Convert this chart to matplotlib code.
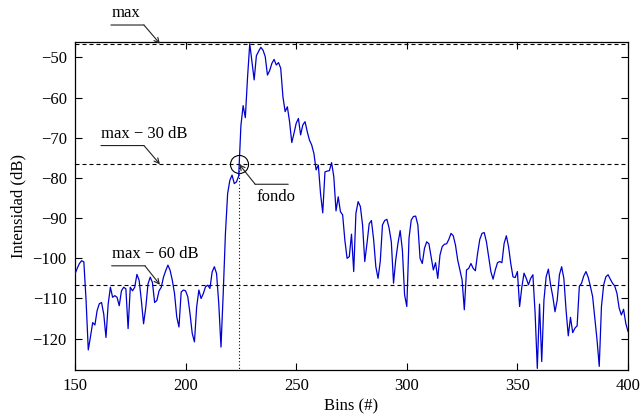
import numpy as np
import matplotlib
matplotlib.use("Agg")
import matplotlib.pyplot as plt

plt.rcParams['font.family'] = ['Liberation Serif', 'DejaVu Serif']
plt.rcParams['font.size'] = 12
plt.rcParams['axes.unicode_minus'] = True

# Spectrum intensity per bin
bins = np.arange(150, 401)
intensity = [
    -103.9, -102.5, -101.3, -100.6, -100.9, -110.4, -122.8, -119.5, -116.0, -116.6,
    -113.0, -111.3, -111.0, -113.9, -119.7, -111.4, -107.2, -109.7, -109.3, -109.7,
    -111.8, -108.1, -107.2, -107.6, -117.5, -107.2, -108.1, -107.2, -104.0, -105.5,
    -110.5, -116.3, -112.2, -106.4, -104.7, -106.0, -111.0, -110.5, -108.1, -107.2,
    -104.7, -103.1, -101.7, -103.0, -105.5, -108.8, -114.6, -117.1, -108.4, -107.9,
    -108.1, -109.6, -113.8, -118.7, -120.8, -112.1, -107.9, -110.0, -108.8, -107.1,
    -106.7, -107.5, -103.4, -102.1, -103.8, -111.3, -122.1, -108.8, -93.9, -83.9,
    -80.6, -79.3, -81.4, -81.0, -79.5, -67.0, -62.0, -65.0, -55.0, -46.6,
    -51.0, -55.6, -49.6, -48.5, -47.5, -48.2, -49.8, -54.4, -53.3, -51.5,
    -50.5, -51.9, -51.3, -52.7, -59.8, -63.5, -62.3, -66.0, -71.2, -68.9,
    -66.4, -65.2, -69.3, -66.8, -66.0, -68.5, -70.6, -71.8, -73.9, -78.0,
    -76.8, -83.9, -88.7, -78.5, -78.3, -78.2, -76.2, -79.7, -88.2, -84.7,
    -88.4, -89.2, -95.5, -100.0, -99.6, -94.0, -103.3, -88.8, -85.9, -87.1,
    -91.7, -100.8, -96.3, -91.4, -90.6, -95.3, -102.1, -105.0, -100.8, -91.7,
    -90.6, -90.3, -92.5, -95.9, -106.2, -100.4, -96.3, -93.1, -97.9, -109.1,
    -112.0, -95.0, -90.5, -89.6, -89.5, -91.7, -100.0, -101.3, -97.5, -95.9,
    -96.4, -99.6, -102.9, -101.1, -105.0, -99.2, -97.1, -96.5, -96.4, -95.3,
    -93.8, -94.4, -96.7, -100.4, -102.9, -105.4, -112.8, -102.9, -102.5, -101.3,
    -102.5, -103.1, -98.8, -95.3, -93.8, -93.6, -95.9, -99.6, -103.3, -105.2,
    -102.9, -101.1, -100.8, -101.1, -96.3, -94.4, -97.1, -101.3, -104.6, -104.8,
    -103.3, -112.0, -107.2, -103.7, -105.0, -106.6, -105.0, -104.1, -113.6, -127.4,
    -111.4, -125.7, -110.4, -104.6, -102.7, -106.6, -109.5, -113.3, -110.4, -104.1,
    -102.1, -105.0, -112.9, -119.3, -114.7, -118.5, -117.4, -116.8, -107.0, -106.2,
    -104.4, -103.3, -104.7, -107.0, -109.5, -114.9, -120.3, -126.9, -112.0, -106.6,
    -104.6, -104.1, -105.2, -106.2, -106.9, -108.7, -112.4, -114.1, -112.7, -116.2,
    -118.2,
]
x_ticks = [150, 200, 250, 300, 350, 400]
y_ticks = [-120, -110, -100, -90, -80, -70, -60, -50]
level_drops = [0, 30, 60]
level_labels = ["max", "max \u2212 30 dB", "max \u2212 60 dB"]
marker_bin = 188.4

W, H = 641, 417
fig = plt.figure(figsize=(W / 100, H / 100), dpi=100)
ax = fig.add_axes([75 / W, 1 - 370 / H, 553 / W, (370 - 41.7) / H])

y = np.asarray(intensity)
ax.plot(bins, y, color='#0000d0', lw=0.9, zorder=3)

peak = y.max()
levels = [peak - d for d in level_drops]
dash = (0, (3.6, 2.7))
for lv in levels:
    ax.axhline(lv, color='k', lw=0.8, ls=dash, zorder=2)

ax.set_xlim(150, 400)
ax.set_ylim(-127.8, -46.1)
ax.set_xticks(x_ticks)
ax.set_yticks(y_ticks)
ax.tick_params(direction='in', top=True, right=True, length=4.7, width=0.8,
               labelsize=12, pad=6)
for s in ax.spines.values():
    s.set_linewidth(0.9)
ax.set_xlabel("Bins (#)", labelpad=3)
ax.set_ylabel("Intensidad (dB)", labelpad=4)

# noise floor: where the rising edge crosses max - 30 dB
thr = levels[1]
ip = int(np.argmax(y))
i = ip
while y[i - 1] >= thr:
    i -= 1
x0, x1 = bins[i - 1], bins[i]
fondo_x = x0 + (thr - y[i - 1]) / (y[i] - y[i - 1]) * (x1 - x0)
ax.plot([fondo_x, fondo_x], [thr, ax.get_ylim()[0]], color='k', lw=0.8,
        ls=(0, (1, 2)), zorder=2)
ax.plot([fondo_x], [thr], marker='o', ms=13, mfc='none', mec='k', mew=0.8,
        zorder=4)


def px(xd, yd):
    return ax.transData.transform((xd, yd))


def leader(tip, elbow, end, label, text_off, ha='left'):
    tx, ty = tip
    ex, ey = tx + elbow[0], ty + elbow[1]
    ax.annotate('', xy=(tx, ty), xycoords='figure pixels',
                xytext=(ex, ey), textcoords='figure pixels',
                arrowprops=dict(arrowstyle='->', lw=0.8, color='#222222',
                                shrinkA=0, shrinkB=0, mutation_scale=9),
                annotation_clip=False)
    ax.annotate('', xy=(tx + end[0], ty + end[1]), xycoords='figure pixels',
                xytext=(ex, ey), textcoords='figure pixels',
                arrowprops=dict(arrowstyle='-', lw=0.8, color='#222222',
                                shrinkA=0, shrinkB=0),
                annotation_clip=False)
    ax.annotate(label, xy=(tx + text_off[0], ty + text_off[1]),
                xycoords='figure pixels', ha=ha, va='baseline', fontsize=12,
                annotation_clip=False)


fig.canvas.draw()
leader(px(marker_bin, levels[0]), (-16, 18.7), (-49, 18.7), level_labels[0], (-48.3, 26.4))
leader(px(marker_bin, levels[1]), (-16, 18.7), (-59, 18.7), level_labels[1], (-59, 26.4))
leader(px(marker_bin, levels[2]), (-15, 19), (-48.3, 19), level_labels[2], (-48.3, 26.7))
leader(px(fondo_x, thr), (16, -20), (49, -20), "fondo", (17, -36.7))

fig.savefig("out.png", dpi=100)
